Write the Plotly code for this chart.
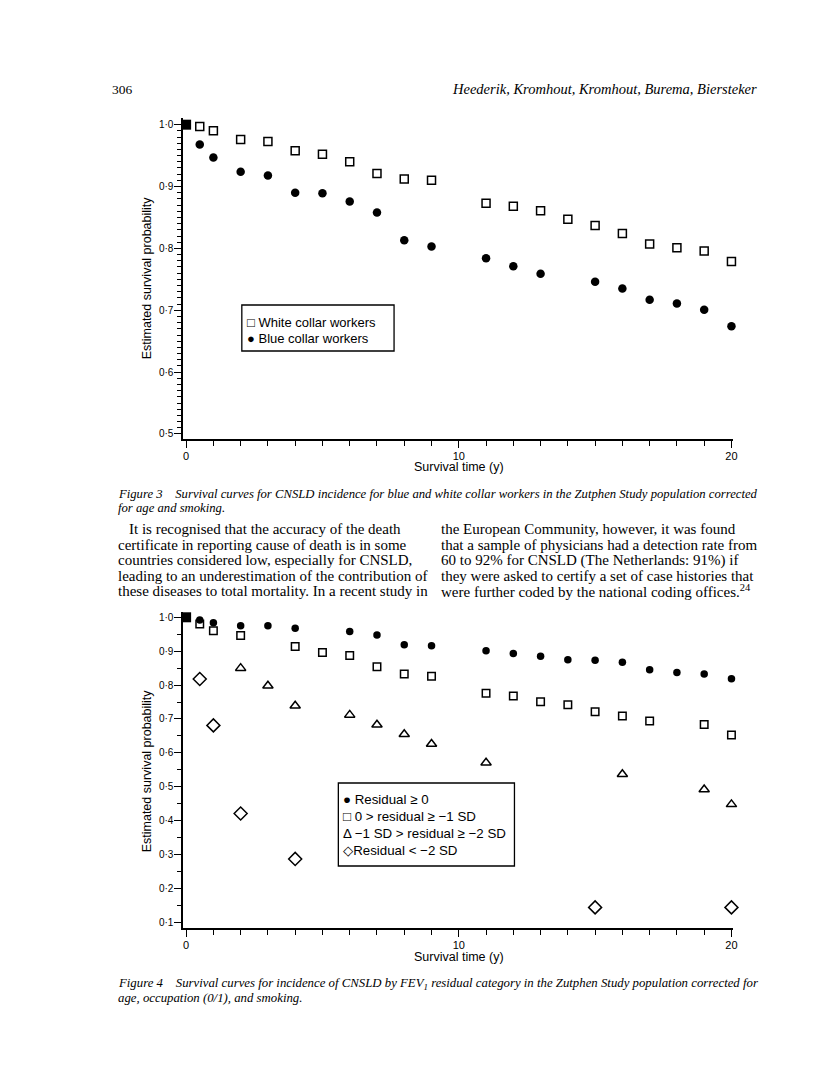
import numpy as np
import plotly.graph_objects as go

# page is rendered inside a body with an 8px default margin
OFF = 8
W, H = 816 - 2 * OFF, 1081 - 2 * OFF

# ---------------- data: Figure 3 ----------------
start_x = [0]
start_y = [1.0]

white_x = [0.5, 1, 2, 3, 4, 5, 6, 7, 8, 9, 11, 12, 13, 14, 15, 16, 17, 18, 19, 20]
white_y = [0.997, 0.990, 0.976, 0.973, 0.958, 0.952, 0.940, 0.921, 0.912, 0.910,
           0.873, 0.868, 0.861, 0.847, 0.837, 0.824, 0.807, 0.801, 0.796, 0.779]

blue_x = [0.5, 1, 2, 3, 4, 5, 6, 7, 8, 9, 11, 12, 13, 15, 16, 17, 18, 19, 20]
blue_y = [0.968, 0.947, 0.924, 0.918, 0.890, 0.889, 0.876, 0.858, 0.813, 0.803,
          0.784, 0.771, 0.759, 0.746, 0.735, 0.717, 0.711, 0.701, 0.674]

fig3_yticks = [0.5, 0.6, 0.7, 0.8, 0.9, 1.0]
fig3_yticklabels = ["0·5", "0·6", "0·7", "0·8", "0·9", "1·0"]

# ---------------- data: Figure 4 ----------------
res0_x = [0.5, 1, 2, 3, 4, 6, 7, 8, 9, 11, 12, 13, 14, 15, 16, 17, 18, 19, 20]
res0_y = [0.992, 0.984, 0.975, 0.975, 0.968, 0.958, 0.948, 0.919, 0.916,
          0.901, 0.893, 0.885, 0.875, 0.873, 0.867, 0.845, 0.837, 0.833, 0.819]

res1_x = [0.5, 1, 2, 4, 5, 6, 7, 8, 9, 11, 12, 13, 14, 15, 16, 17, 19, 20]
res1_y = [0.980, 0.960, 0.946, 0.914, 0.896, 0.887, 0.854, 0.833, 0.826,
          0.776, 0.768, 0.751, 0.742, 0.721, 0.709, 0.694, 0.684, 0.653]

res2_x = [2, 3, 4, 6, 7, 8, 9, 11, 16, 19, 20]
res2_y = [0.850, 0.798, 0.739, 0.712, 0.683, 0.655, 0.626, 0.571, 0.537, 0.492, 0.448]

res3_x = [0.5, 1, 2, 4, 15, 20]
res3_y = [0.818, 0.681, 0.421, 0.287, 0.144, 0.144]

fig4_yticks = [0.1, 0.2, 0.3, 0.4, 0.5, 0.6, 0.7, 0.8, 0.9, 1.0]
fig4_yticklabels = ["0·1", "0·2", "0·3", "0·4", "0·5", "0·6", "0·7", "0·8", "0·9", "1·0"]

xlabel = "Survival time (y)"
ylabel = "Estimated survival probability"

fig3_legend = ["□ White collar workers", "● Blue collar workers"]
fig4_legend = ["● Residual ≥ 0", "□ 0 > residual ≥ −1 SD",
               "Δ −1 SD > residual ≥ −2 SD", "◇Residual < −2 SD"]

header_left = "306"
header_right = "Heederik, Kromhout, Kromhout, Burema, Biersteker"

caption3 = ["Figure 3    Survival curves for CNSLD incidence for blue and white collar workers in the Zutphen Study population corrected",
            "for age and smoking."]
caption4 = ["Figure 4    Survival curves for incidence of CNSLD by FEV<sub>1</sub> residual category in the Zutphen Study population corrected for",
            "age, occupation (0/1), and smoking."]

body_left = ["It is recognised that the accuracy of the death",
             "certificate in reporting cause of death is in some",
             "countries considered low, especially for CNSLD,",
             "leading to an underestimation of the contribution of",
             "these diseases to total mortality. In a recent study in"]
body_right = ["the European Community, however, it was found",
              "that a sample of physicians had a detection rate from",
              "60 to 92% for CNSLD (The Netherlands: 91%) if",
              "they were asked to certify a set of case histories that",
              "were further coded by the national coding offices.<sup>24</sup>"]


def px(x):
    return (x - OFF) / W


def py(y):
    return 1 - (y - OFF) / H


SANS = "Liberation Sans, Arial, DejaVu Sans"
SERIF = "Liberation Serif, Times New Roman, serif"

fig = go.Figure()


def mk(symbol, size, filled=False):
    if filled:
        return dict(symbol=symbol, size=size, color="black", line=dict(width=0))
    return dict(symbol=symbol, size=size, color="black", line=dict(width=1.5, color="black"))


def add(xs, ys, marker, xa, ya):
    fig.add_trace(go.Scatter(x=xs, y=ys, mode="markers", marker=marker, xaxis=xa, yaxis=ya,
                             showlegend=False, cliponaxis=False))


# Figure 3 traces
add(white_x, white_y, mk("square-open", 8), "x", "y")
add(blue_x, blue_y, mk("circle", 8.5, True), "x", "y")
add(start_x, start_y, mk("square", 10, True), "x", "y")

# Figure 4 traces
add(res0_x, res0_y, mk("circle", 7.5, True), "x2", "y2")
add(res1_x, res1_y, mk("square-open", 7.5), "x2", "y2")
add(res2_x, res2_y, mk("triangle-up-open", 9), "x2", "y2")
add(res3_x, res3_y, mk("diamond-open", 10), "x2", "y2")
add(start_x, start_y, mk("square", 10, True), "x2", "y2")

xdom = [px(184), px(737)]
xrng = [-0.11, 20.07]

xaxis_common = dict(
    domain=xdom, range=xrng, showgrid=False, zeroline=False,
    showline=True, linecolor="black", linewidth=1.5,
    ticks="outside", tickmode="linear", tick0=0, dtick=10, ticklen=7, tickwidth=1.3,
    tickcolor="black", tickfont=dict(family=SANS, size=11, color="black"),
    ticklabelstandoff=-1,
    minor=dict(ticks="outside", tickmode="linear", tick0=0, dtick=1, ticklen=5,
               tickwidth=1.2, tickcolor="black", showgrid=False),
)

yaxis_common = dict(
    showgrid=False, zeroline=False, showline=True, linecolor="black", linewidth=1.5,
    ticks="outside", ticklen=7, tickwidth=1.3, tickcolor="black",
    tickfont=dict(family=SANS, size=10, color="black"),
    ticklabelstandoff=-1,
)

fig.update_layout(
    width=W, height=H, margin=dict(l=0, r=0, t=0, b=0),
    paper_bgcolor="white", plot_bgcolor="white",
    xaxis=dict(anchor="y", **xaxis_common),
    yaxis=dict(anchor="x", domain=[py(439), py(118)], range=[0.4919, 1.0108],
               tickmode="array", tickvals=fig3_yticks, ticktext=fig3_yticklabels,
               minor=dict(ticks="outside", tickmode="array",
                          tickvals=[round(v, 2) for v in np.arange(0.5, 1.001, 0.01)],
                          ticklen=4, tickwidth=1, tickcolor="black", showgrid=False),
               **yaxis_common),
    xaxis2=dict(anchor="y2", **xaxis_common),
    yaxis2=dict(anchor="x2", domain=[py(928), py(611.7)], range=[0.0832, 1.0165],
                tickmode="array", tickvals=fig4_yticks, ticktext=fig4_yticklabels,
                minor=dict(ticks="outside", tickmode="array",
                           tickvals=[round(v, 2) for v in np.arange(0.1, 1.001, 0.05)],
                           ticklen=4, tickwidth=1, tickcolor="black", showgrid=False),
                **yaxis_common),
)

ann = []


def text(x, y, s, size=13, family=SANS, xanchor="left", angle=0, italic=False, color="black"):
    ann.append(dict(x=px(x), y=py(y), xref="paper", yref="paper", text=s, showarrow=False,
                    xanchor=xanchor, yanchor="middle", textangle=angle,
                    font=dict(family=family, size=size, color=color,
                              style="italic" if italic else "normal")))


# header
text(111, 89, header_left, size=13.5, family=SERIF)
text(763, 89, header_right, size=14.5, family=SERIF, xanchor="right", italic=True)

# axis titles
text(461, 467, xlabel, size=12.5, xanchor="center")
text(148, 278, ylabel, size=12.5, xanchor="center", angle=-90)
text(461, 957, xlabel, size=12.5, xanchor="center")
text(148, 771, ylabel, size=12.5, xanchor="center", angle=-90)

# legends (boxes drawn as shapes)
shapes = [
    dict(type="rect", xref="paper", yref="paper", x0=px(243), x1=px(396), y0=py(351), y1=py(305),
         line=dict(color="black", width=1.3), fillcolor="white", layer="above"),
    dict(type="rect", xref="paper", yref="paper", x0=px(340), x1=px(517), y0=py(866), y1=py(783),
         line=dict(color="black", width=1.3), fillcolor="white", layer="above"),
]
fig.update_layout(shapes=shapes)

for s, yy in zip(fig3_legend, [322, 338]):
    text(246, yy, s, size=13)
for s, yy in zip(fig4_legend, [799, 816, 833, 850]):
    text(343, yy, s, size=13.3)

# captions
for s, yy in zip(caption3, [494, 508]):
    text(117, yy, s, size=12.7, family=SERIF, italic=True)
for s, yy in zip(caption4, [984, 998]):
    text(117, yy, s, size=12.8, family=SERIF, italic=True)

# body text
for i, (sl, sr) in enumerate(zip(body_left, body_right)):
    yy = 529 + i * 15.5
    text(128 if i == 0 else 117, yy, sl, size=15, family=SERIF)
    text(441, yy, sr, size=15, family=SERIF)

fig.update_layout(annotations=ann)

fig.write_html("out.html")
